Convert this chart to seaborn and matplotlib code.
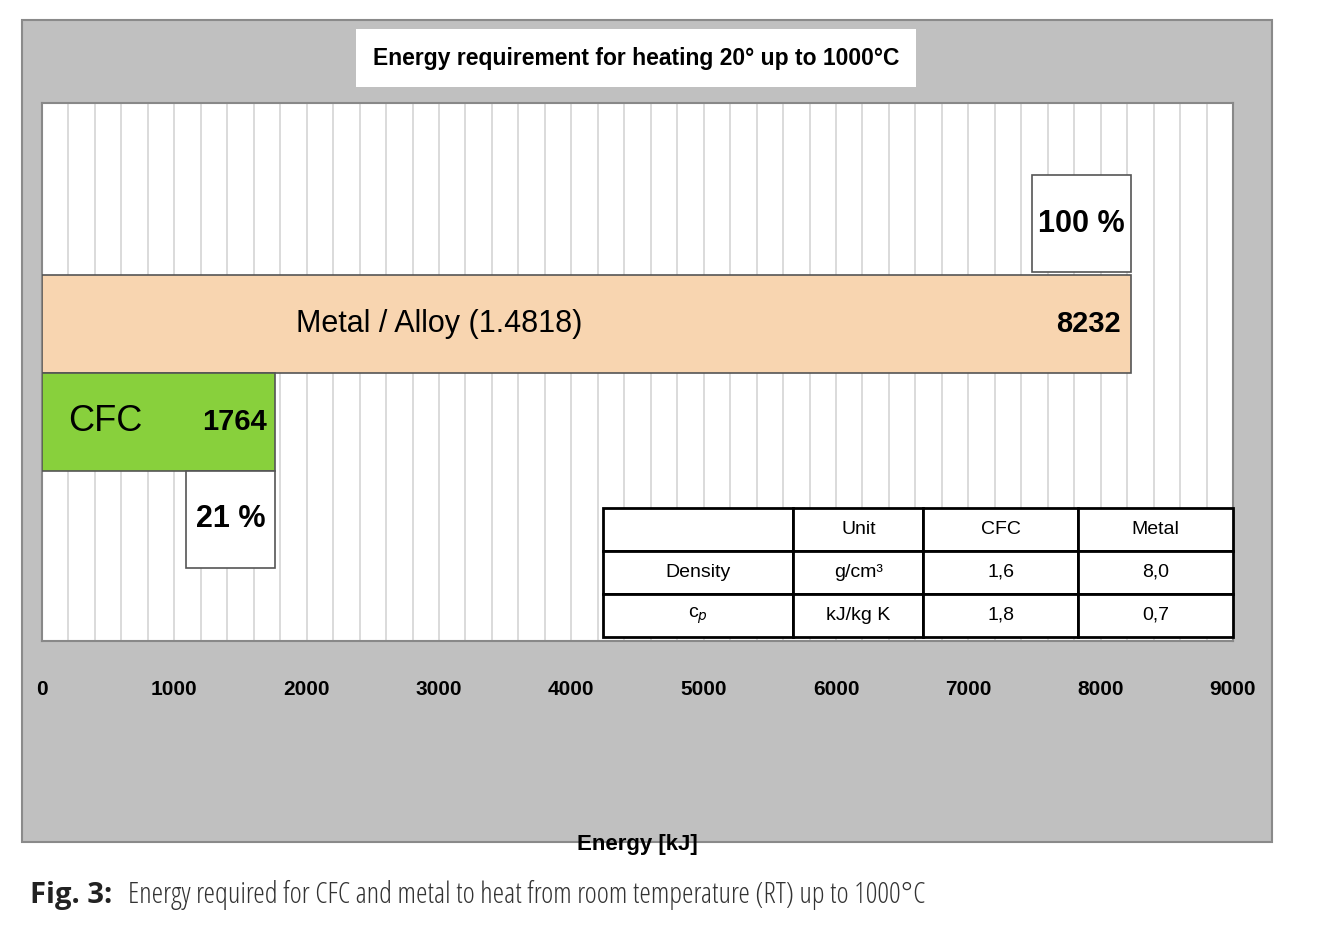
import matplotlib
matplotlib.use("Agg")
import matplotlib.pyplot as plt
import seaborn as sns
import pandas as pd
from matplotlib.patches import Rectangle

categories = ["Metal / Alloy (1.4818)", "CFC"]
energy = [8232, 1764]
percent = ["100 %", "21 %"]
colors = ["#f8d5b0", "#88d03c"]
table_cols = ["", "Unit", "CFC", "Metal"]
table_rows = [["Density", "g/cm³", "1,6", "8,0"], ["c$_p$", "kJ/kg K", "1,8", "0,7"]]
xticks = list(range(0, 9001, 1000))

sns.set_theme(style="white")
plt.rcParams['font.family'] = ['Liberation Sans', 'DejaVu Sans']
plt.rcParams['text.color'] = 'black'
fig = plt.figure(figsize=(13.31, 9.44), dpi=100)
fig.patch.set_facecolor("white")
fig.add_artist(Rectangle((22/1331, 1-842/944), 1250/1331, 822/944, transform=fig.transFigure,
                         facecolor="#c0c0c0", edgecolor="#8a8a8a", lw=1.5, zorder=0))
ax = fig.add_axes([42/1331, 1-641/944, 1191/1331, 538/944])
df = pd.DataFrame({"cat": categories, "energy": energy})
sns.barplot(data=df, y="cat", x="energy", hue="cat", palette=colors, orient="h", width=1.0,
            saturation=1, edgecolor="#555555", linewidth=1.2, ax=ax, legend=False, zorder=3)
ax.set_facecolor("white")
ax.set_xlim(0, 9000)
ax.set_ylim(3.235, -2.255)
for x in range(200, 9000, 200):
    ax.axvline(x, color="#d4d4d4", lw=1.2, zorder=1)
ax.set_yticks([])
ax.set_ylabel("")
ax.set_xticks(xticks)
ax.set_xticklabels([str(t) for t in xticks], fontsize=15, fontweight="bold", color="black")
ax.tick_params(axis="x", length=0, pad=28)
ax.set_xlabel("Energy [kJ]", fontsize=16, fontweight="bold", labelpad=97, color="black")
for s in ax.spines.values():
    s.set_color("#888888"); s.set_linewidth(1.5)

ax.text(3000, 0, categories[0], ha="center", va="center", fontsize=22, zorder=5)
ax.text(8150, 0, str(energy[0]), ha="right", va="center", fontsize=21, fontweight="bold", zorder=5)
ax.text(480, 1, "CFC", ha="center", va="center", fontsize=26, zorder=5)
ax.text(1700, 1, str(energy[1]), ha="right", va="center", fontsize=21, fontweight="bold", zorder=5)
for (x0, x1, y0, y1, t) in [(7481, 8232, -1.52, -0.53, percent[0]), (1088, 1764, 1.5, 2.49, percent[1])]:
    ax.add_patch(Rectangle((x0, y0), x1-x0, y1-y0, facecolor="white", edgecolor="#555555", lw=1.2, zorder=4))
    ax.text((x0+x1)/2, (y0+y1)/2, t, ha="center", va="center", fontsize=22, fontweight="bold", zorder=5)

tbl = ax.table(cellText=table_rows, colLabels=table_cols, cellLoc="center",
               bbox=[0.471, 0.0074, 0.529, 0.24], colWidths=[190, 130, 154, 155], zorder=6)
tbl.auto_set_font_size(False)
tbl.set_fontsize(14)
for c in tbl.get_celld().values():
    c.set_edgecolor("black"); c.set_linewidth(2); c.set_facecolor("white")

fig.text(636/1331, 1-58/944, "Energy requirement for heating 20° up to 1000°C", ha="center", va="center",
         fontsize=16.5, fontweight="bold",
         bbox=dict(facecolor="white", edgecolor="none", pad=12, boxstyle="square,pad=0.75"))
t1 = fig.text(30/1331, 1-895/944, "Fig. 3:", ha="left", va="center", fontsize=21,
              fontweight="bold", color="#222222", family="Open Sans")
fig.text(128/1331, 1-895/944, "Energy required for CFC and metal to heat from room temperature (RT) up to 1000°C",
         ha="left", va="center", fontsize=21, color="#333333", family="Open Sans", fontstretch="condensed")
fig.savefig("out.png", dpi=100)
